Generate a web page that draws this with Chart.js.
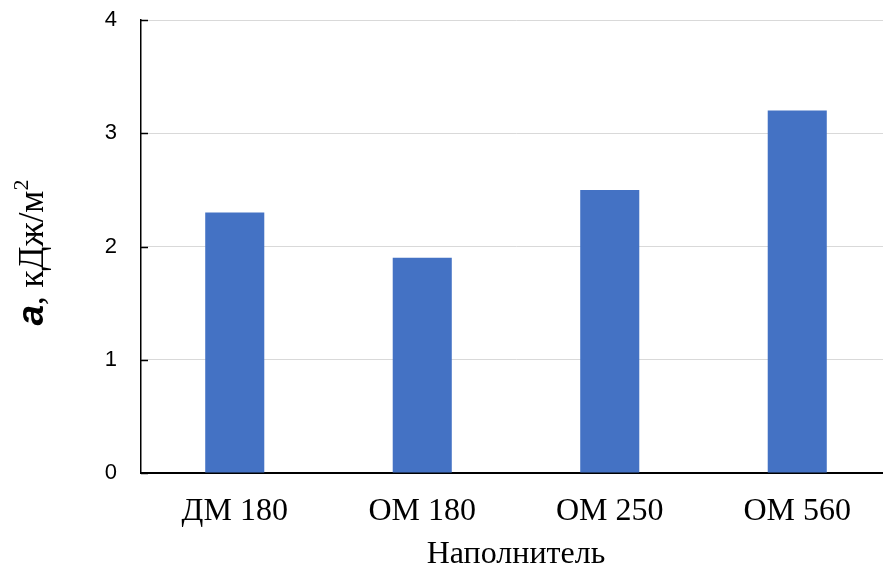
<!DOCTYPE html>
<html>
<head>
<meta charset="utf-8">
<script src="https://cdn.jsdelivr.net/npm/chart.js@4"></script>
<style>
  html, body { margin: 0; padding: 0; background: #fff; overflow: hidden; }
  #wrap { width: 895px; height: 571px; }
</style>
</head>
<body>
<div id="wrap"><canvas id="chart" width="895" height="571"></canvas></div>
<script>
const categories = ["ДМ 180", "ОМ 180", "ОМ 250", "ОМ 560"];
const values = [2.3, 1.9, 2.5, 3.2];
const yTicks = [0, 1, 2, 3, 4];

// подпись оси Y: жирная курсивная "a" + остальное
const yTitlePlugin = {
  id: "yTitle",
  afterDraw(chart) {
    const ctx = chart.ctx;
    const area = chart.chartArea;
    const parts = [
      { t: "a", font: "italic bold 37px 'Liberation Sans'", dy: 0 },
      { t: ", кДж/м", font: "35px 'Liberation Serif'", dy: 0 },
      { t: "2", font: "22px 'Liberation Serif'", dy: -15 }
    ];
    let total = 0;
    parts.forEach(p => { ctx.font = p.font; p.w = ctx.measureText(p.t).width; total += p.w; });
    ctx.save();
    ctx.translate(43, (area.top + area.bottom) / 2 + 6);
    ctx.rotate(-Math.PI / 2);
    ctx.fillStyle = "#000";
    ctx.textBaseline = "alphabetic";
    let x = -total / 2;
    parts.forEach(p => { ctx.font = p.font; ctx.fillText(p.t, x, p.dy); x += p.w; });
    ctx.restore();
  }
};

// короткие засечки оси Y внутрь области
const yTickMarks = {
  id: "yTickMarks",
  afterDraw(chart) {
    const ctx = chart.ctx;
    const y = chart.scales.y;
    ctx.save();
    ctx.strokeStyle = "#000";
    ctx.lineWidth = 1.5;
    yTicks.forEach(v => {
      const py = Math.round(y.getPixelForValue(v)) + 0.5;
      ctx.beginPath();
      ctx.moveTo(chart.chartArea.left, py);
      ctx.lineTo(chart.chartArea.left + 7, py);
      ctx.stroke();
    });
    ctx.restore();
  }
};

new Chart(document.getElementById("chart"), {
  type: "bar",
  data: {
    labels: categories,
    datasets: [{
      data: values,
      backgroundColor: "#4472C4",
      barPercentage: 1,
      categoryPercentage: 0.315
    }]
  },
  options: {
    responsive: false,
    animation: false,
    layout: { padding: { top: 20, left: 0, right: 4, bottom: 0 } },
    plugins: {
      legend: { display: false },
      tooltip: { enabled: false }
    },
    scales: {
      x: {
        afterFit: s => { s.height = 98; s.paddingLeft = 0; s.paddingRight = 0; },
        grid: { display: false },
        border: { color: "#000", width: 2 },
        ticks: {
          color: "#000",
          padding: 11,
          maxRotation: 0,
          font: { family: "'Liberation Serif'", size: 32 }
        },
        title: {
          display: true,
          text: "Наполнитель",
          color: "#000",
          padding: { top: 0, bottom: 0 },
          font: { family: "'Liberation Serif'", size: 32, lineHeight: 1 }
        }
      },
      y: {
        min: 0,
        max: 4,
        afterFit: s => { s.width = 141; s.paddingTop = 0; s.paddingBottom = 0; },
        afterBuildTicks: s => { s.ticks = yTicks.map(v => ({ value: v })); },
        grid: { color: "#d9d9d9", lineWidth: 1, drawTicks: false },
        border: { color: "#000", width: 1.5 },
        ticks: {
          color: "#000",
          padding: 24,
          font: { family: "'Liberation Sans'", size: 22 }
        }
      }
    }
  },
  plugins: [yTitlePlugin, yTickMarks]
});
</script>
</body>
</html>
